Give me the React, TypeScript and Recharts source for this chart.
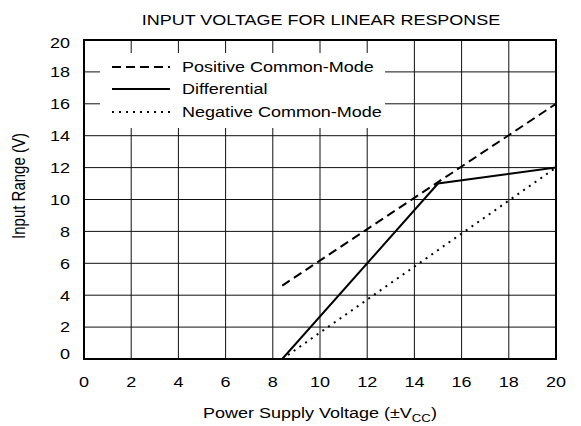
import { LineChart, Line, XAxis, YAxis, CartesianGrid, ReferenceArea, Legend } from 'recharts'

const xTicks = [0, 2, 4, 6, 8, 10, 12, 14, 16, 18, 20]
const yTicks = [0, 2, 4, 6, 8, 10, 12, 14, 16, 18, 20]

// Positive common-mode limit (dashed)
const posX = [8.4, 20]
const posY = [4.6, 16]
// Differential (solid)
const diffX = [8.4, 15, 20]
const diffY = [0, 11, 12]
// Negative common-mode limit (dotted)
const negX = [8.4, 20]
const negY = [0, 12]

const legendNames = ['Positive Common-Mode', 'Differential', 'Negative Common-Mode']

const toPoints = (xs: number[], ys: number[]) => xs.map((x, i) => ({ x, y: ys[i] }))
const posData = toPoints(posX, posY)
const diffData = toPoints(diffX, diffY)
const negData = toPoints(negX, negY)

const FONT = 'Arial, "Liberation Sans", Helvetica, sans-serif'
const FS = 15
const SX = 1.2 // the source image is stretched sideways

const DASH = '9 5'
const DOT = '2 5'

function YTick({ x, y, payload }: any) {
  const v = payload.value
  const shift = v === 20 ? 3 : v === 0 ? -5 : 0
  return (
    <text
      transform={`translate(${x},${y + shift}) scale(${SX},1)`}
      textAnchor="end"
      dy="0.355em"
      fontSize={FS}
      fontFamily={FONT}
      fill="#000"
    >
      {v}
    </text>
  )
}

function XTick({ x, y, payload }: any) {
  return (
    <text
      transform={`translate(${x},${y}) scale(${SX},1)`}
      textAnchor="middle"
      dy="0.355em"
      fontSize={FS}
      fontFamily={FONT}
      fill="#000"
    >
      {payload.value}
    </text>
  )
}

function LegendBox() {
  const dashes = [DASH, undefined, DOT]
  const rows = [14, 36, 59]
  return (
    <svg width={285} height={75} style={{ display: 'block', background: '#fff' }}>
      {legendNames.map((name, i) => (
        <g key={name}>
          <line x1={12} x2={70} y1={rows[i]} y2={rows[i]} stroke="#000" strokeWidth={2} strokeDasharray={dashes[i]} />
          <text
            transform={`translate(82,${rows[i]}) scale(${SX},1)`}
            dy="0.355em"
            fontSize={FS}
            fontFamily={FONT}
            fill="#000"
          >
            {name}
          </text>
        </g>
      ))}
    </svg>
  )
}

export default function App() {
  return (
    <div style={{ position: 'absolute', left: 0, top: 0, background: '#fff' }}>
      <LineChart width={581} height={426} margin={{ top: 40, right: 25, bottom: 17, left: 24 }}>
        <CartesianGrid stroke="#111" strokeWidth={1} verticalPoints={undefined} />
        <XAxis
          type="number"
          dataKey="x"
          domain={[0, 20]}
          ticks={xTicks}
          axisLine={false}
          tickLine={false}
          tickSize={0}
          tickMargin={23}
          height={50}
          tick={<XTick />}
          allowDataOverflow
        />
        <YAxis
          type="number"
          dataKey="y"
          domain={[0, 20]}
          ticks={yTicks}
          axisLine={false}
          tickLine={false}
          tickSize={0}
          tickMargin={14}
          width={60}
          tick={<YTick />}
          allowDataOverflow
        />
        <ReferenceArea x1={0} x2={20} y1={0} y2={20} fill="none" stroke="#000" strokeWidth={2} ifOverflow="visible" />
        <Line data={posData} dataKey="y" type="linear" stroke="#000" strokeWidth={2} strokeDasharray={DASH} dot={false} isAnimationActive={false} />
        <Line data={diffData} dataKey="y" type="linear" stroke="#000" strokeWidth={2} dot={false} isAnimationActive={false} />
        <Line data={negData} dataKey="y" type="linear" stroke="#000" strokeWidth={2} strokeDasharray={DOT} dot={false} isAnimationActive={false} />
        <Legend
          layout="vertical"
          align="center"
          verticalAlign="middle"
          content={<LegendBox />}
          wrapperStyle={{ left: 100, top: 53, width: 285, height: 75 }}
        />
        <text transform={`translate(321,25) scale(${SX},1)`} textAnchor="middle" fontSize={FS} fontFamily={FONT} fill="#000">
          INPUT VOLTAGE FOR LINEAR RESPONSE
        </text>
        <text transform={`translate(25,186) scale(${SX},1) rotate(-90)`} textAnchor="middle" fontSize={FS} fontFamily={FONT} fill="#000">
          Input Range (V)
        </text>
        <text transform={`translate(320,418) scale(${SX},1)`} textAnchor="middle" fontSize={FS} fontFamily={FONT} fill="#000">
          Power Supply Voltage (±V<tspan fontSize={11} dy={4}>CC</tspan><tspan dy={-4}>)</tspan>
        </text>
      </LineChart>
    </div>
  )
}
